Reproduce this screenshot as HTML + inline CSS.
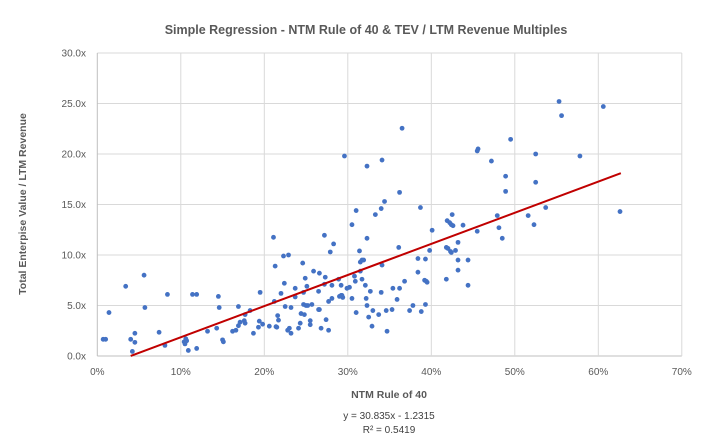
<!DOCTYPE html>
<html><head><meta charset="utf-8"><style>
body{margin:0;background:#fff;width:704px;height:440px;overflow:hidden;font-family:"Liberation Sans",Arial,sans-serif}
text{font-family:"Liberation Sans",Arial,sans-serif}
</style></head><body>
<svg id="chart" width="704" height="440" xmlns="http://www.w3.org/2000/svg">
<text x="366" y="34" text-anchor="middle" font-size="12.5" font-weight="bold" fill="#595959">Simple Regression - NTM Rule of 40 &amp; TEV / LTM Revenue Multiples</text>
<g id="grid"></g>
<g id="ticks"></g>
<g id="pts"></g>
<g id="trend"></g>
<text x="389" y="398" text-anchor="middle" font-size="10.5" font-weight="bold" fill="#595959">NTM Rule of 40</text>
<text transform="translate(26,204) rotate(-90)" text-anchor="middle" font-size="10.5" font-weight="bold" fill="#595959">Total Enterpise Value / LTM Revenue</text>
<text x="389" y="419" text-anchor="middle" font-size="10" fill="#404040">y = 30.835x - 1.2315</text>
<text x="389" y="433" text-anchor="middle" font-size="10" fill="#404040">R² = 0.5419</text>
</svg>
<script>
const xTicks=[0,10,20,30,40,50,60,70];
const xTickLabels=["0%","10%","20%","30%","40%","50%","60%","70%"];
const yTicks=[0,5,10,15,20,25,30];
const yTickLabels=["0.0x","5.0x","10.0x","15.0x","20.0x","25.0x","30.0x"];
const ptX=[0.7,1.0,1.4,3.4,5.6,5.7,4.0,4.5,4.5,4.2,7.4,8.1,8.4,11.4,11.9,14.5,14.6,10.4,10.6,10.5,10.7,10.9,11.9,13.2,14.3,15.0,15.1,16.2,16.6,16.9,16.9,17.1,17.6,17.7,17.7,18.3,18.7,19.3,19.4,19.8,19.5,20.6,21.1,21.3,21.2,21.4,21.5,21.6,21.7,22.0,22.3,22.9,22.4,22.5,22.8,23.0,
23.2,23.2,23.7,23.7,24.1,24.3,24.6,24.7,24.7,24.9,25.0,25.2,24.4,24.8,25.1,25.5,25.5,25.7,25.9,26.5,26.6,26.5,26.6,26.8,27.2,27.3,27.2,27.4,27.7,27.7,27.9,28.3,28.1,28.1,28.9,29.0,29.2,29.4,29.3,29.2,29.9,30.2,30.5,30.5,31.0,30.8,30.9,31.0,31.4,31.5,31.7,31.9,31.5,31.7,32.1,32.2,32.3,32.3,32.5,32.7,33.0,32.9,33.3,33.7,34.0,34.4,34.0,34.1,34.6,34.7,35.3,35.4,35.9,36.2,36.1,36.8,37.4,37.8,38.4,38.4,38.7,38.8,39.3,39.3,39.2,39.4,39.5,39.8,40.1,41.8,41.9,42.2,42.4,42.6,42.5,41.8,42.0,42.3,42.4,42.9,43.2,43.2,43.2,43.8,44.4,44.4,45.5,
29.6,32.3,34.1,36.5,36.2,45.5,45.6,47.2,47.9,48.9,48.9,49.5,51.6,52.5,52.5,53.7,55.3,55.6,57.8,60.6,62.6,48.1,48.5,52.3];
const ptY=[1.65,1.65,4.3,6.9,8.0,4.8,1.65,2.25,1.35,0.45,2.35,1.05,6.1,6.1,6.1,5.9,4.8,1.4,1.7,1.2,1.5,0.55,0.75,2.45,2.75,1.6,1.4,2.45,2.55,4.9,3.0,3.35,3.5,3.25,4.1,4.5,2.25,2.85,3.45,3.15,6.3,2.95,11.75,8.9,5.4,2.9,2.85,4.0,3.55,6.2,9.9,10.0,7.2,4.9,2.55,2.75,
4.8,2.25,6.7,5.85,2.75,3.25,9.2,6.3,5.1,7.7,5.0,5.0,4.2,4.1,6.9,3.5,3.1,5.1,8.4,4.6,4.6,6.4,8.2,2.75,11.95,7.8,7.1,3.6,2.55,5.4,10.3,11.1,7.0,5.7,7.6,5.9,6.0,5.8,6.0,7.0,6.7,6.8,5.7,13.0,14.4,7.9,7.4,4.3,10.4,9.3,9.5,9.5,8.4,7.6,7.0,5.7,5.0,11.65,3.85,6.4,4.5,2.95,14.0,4.1,14.6,15.3,6.3,9.0,4.5,2.45,4.6,6.7,5.6,6.7,10.75,7.4,4.5,5.0,9.65,8.3,14.7,4.4,5.1,9.6,7.5,7.4,7.3,10.45,12.45,7.6,13.4,13.2,13.0,12.9,14.0,10.75,10.65,10.35,10.25,10.45,11.25,9.5,8.5,12.95,9.5,7.0,12.35,
19.8,18.8,19.4,22.55,16.2,20.3,20.5,19.3,13.9,17.8,16.3,21.45,13.9,20.0,17.2,14.7,25.2,23.8,19.8,24.7,14.3,12.7,11.65,13.0];
const slope=30.835, intercept=-1.2315, fitStart=4.0, fitEnd=62.7;
const X0=97.3, XS=8.35, Y0=356, YS=10.1;
const sx=v=>X0+v*XS, sy=v=>Y0-v*YS;
const NS="http://www.w3.org/2000/svg";
function mk(tag,attrs,parent){const e=document.createElementNS(NS,tag);for(const k in attrs)e.setAttribute(k,attrs[k]);parent.appendChild(e);return e;}
const grid=document.getElementById('grid'),ticks=document.getElementById('ticks');
yTicks.forEach((t,i)=>{
 const l=mk('line',{x1:X0,x2:sx(70),y1:sy(t),y2:sy(t),stroke:i==0?'#bfbfbf':'#d9d9d9','stroke-width':1},grid);
 
 
 const tx=mk('text',{x:86,y:sy(t)+3.5,'text-anchor':'end','font-size':10,fill:'#595959'},ticks);
 tx.textContent=yTickLabels[i];
 
 
});
xTicks.forEach((t,i)=>{
 const l=mk('line',{x1:sx(t),x2:sx(t),y1:sy(0),y2:sy(30),stroke:i==0?'#bfbfbf':'#d9d9d9','stroke-width':1},grid);
 
 
 const tx=mk('text',{x:sx(t),y:375,'text-anchor':'middle','font-size':10,fill:'#595959'},ticks);
 tx.textContent=xTickLabels[i];
 
 
});
const pts=document.getElementById('pts');
ptX.forEach((x,i)=>{
 const c=mk('circle',{cx:sx(x),cy:sy(ptY[i]),r:2.4,fill:'#4472c4'},pts);
 
 
});
const tl=mk('line',{x1:sx(fitStart),y1:sy(slope*fitStart/100+intercept),x2:sx(fitEnd),y2:sy(slope*fitEnd/100+intercept),stroke:'#c00000','stroke-width':2},document.getElementById('trend'));


</script>
</body></html>
